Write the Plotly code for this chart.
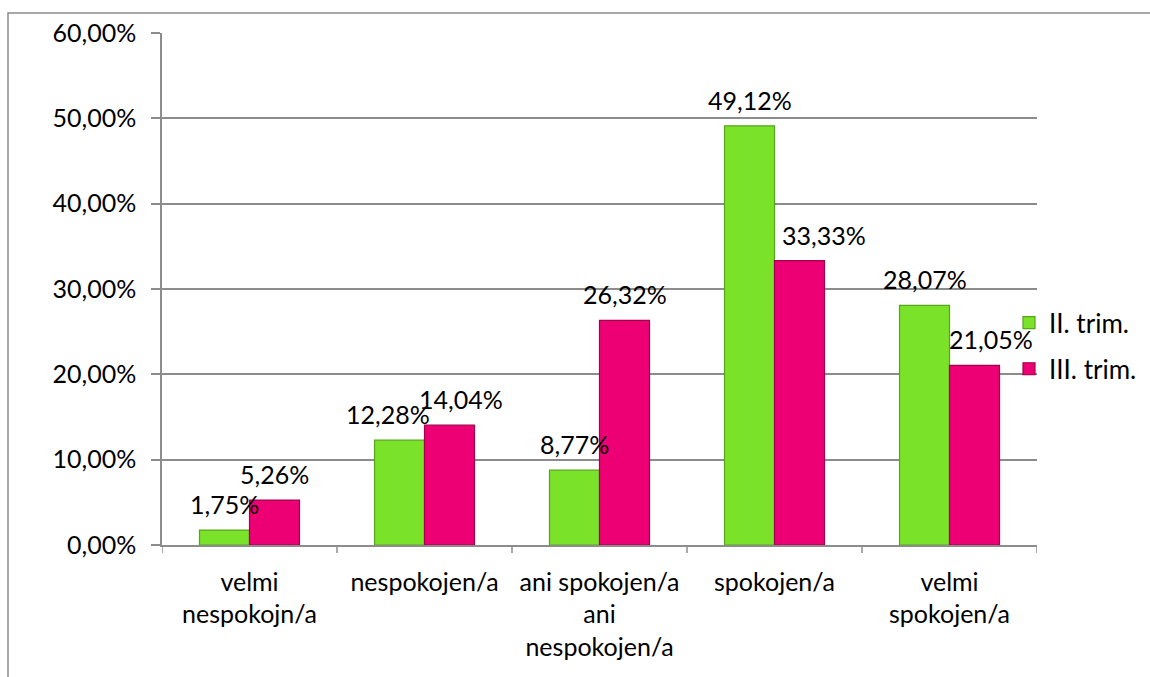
import plotly.graph_objects as go

# Satisfaction survey: share of answers per category, two quarters
categories = [
    "velmi<br>nespokojn/a",
    "nespokojen/a",
    "ani spokojen/a<br>ani<br>nespokojen/a",
    "spokojen/a",
    "velmi<br>spokojen/a",
]
series_names = ["II. trim.", "III. trim."]
q2_values = [1.75, 12.28, 8.77, 49.12, 28.07]
q3_values = [5.26, 14.04, 26.32, 33.33, 21.05]
y_ticks = [0, 10, 20, 30, 40, 50, 60]

# label nudges (px) where neighbouring labels would collide
q2_label_dx = [0, -12, 0, 0, 0]
q3_label_dx = [0, 11, 0, 24, 16]

FONT = "Lato"
FS = 25
GREEN, GREEN_EDGE = "#7ae228", "#58a41a"
PINK, PINK_EDGE = "#ec0073", "#a2004c"
GRID = "#8c8c8c"

BARGAP = 0.4286
bar_w = (1 - BARGAP) / 2


def fmt(v):
    return f"{v:.2f}%".replace(".", ",")


fig = go.Figure()
fig.add_trace(go.Bar(
    x=list(range(len(categories))), y=q2_values, name=series_names[0],
    marker=dict(color=GREEN, line=dict(color=GREEN_EDGE, width=1.2)),
    legend="legend", showlegend=True,
))
fig.add_trace(go.Bar(
    x=list(range(len(categories))), y=q3_values, name=series_names[1],
    marker=dict(color=PINK, line=dict(color=PINK_EDGE, width=1.2)),
    legend="legend2", showlegend=True,
))

annotations = []
for i in range(len(categories)):
    for vals, dxs, side in ((q2_values, q2_label_dx, -1), (q3_values, q3_label_dx, 1)):
        annotations.append(dict(
            x=i + side * bar_w / 2, y=vals[i], xref="x", yref="y",
            text=fmt(vals[i]), showarrow=False,
            xanchor="center", yanchor="middle",
            xshift=dxs[i], yshift=26,
            font=dict(family=FONT, size=FS, color="#000000"),
        ))

legend_common = dict(
    xanchor="left", yanchor="middle", bgcolor="rgba(0,0,0,0)",
    font=dict(family=FONT, size=FS + 1, color="#000000"), itemwidth=30,
)

fig.update_layout(
    width=1150, height=677,
    margin=dict(l=162, r=113, t=33, b=132, autoexpand=False),
    paper_bgcolor="white", plot_bgcolor="white",
    barmode="group", bargap=BARGAP, bargroupgap=0,
    font=dict(family=FONT, size=FS, color="#000000"),
    annotations=annotations,
    showlegend=True,
    legend=dict(x=0.968, y=0.434, **legend_common),
    legend2=dict(x=0.968, y=0.344, **legend_common),
    xaxis=dict(
        tickmode="array", tickvals=list(range(len(categories))), ticktext=categories,
        range=[-0.5, len(categories) - 0.5],
        showline=True, linecolor=GRID, linewidth=1.5,
        ticks="", showgrid=False, zeroline=False,
        tickfont=dict(family=FONT, size=FS), ticklabelstandoff=14,
    ),
    yaxis=dict(
        range=[0, 60], tickmode="array", tickvals=y_ticks,
        ticktext=[fmt(t) for t in y_ticks],
        showline=True, linecolor=GRID, linewidth=1.5,
        ticks="outside", ticklen=9, tickcolor=GRID, tickwidth=1.5,
        showgrid=True, gridcolor=GRID, gridwidth=1.5, zeroline=False,
        tickfont=dict(family=FONT, size=FS), ticklabelstandoff=10,
    ),
    shapes=[
        # chart frame (only its top and left edges fall inside the page)
        dict(type="rect", xref="paper", yref="paper",
             x0=-0.176, x1=1.3, y0=-0.5, y1=1.039,
             line=dict(color=GRID, width=1.5), layer="below"),
        # category separators below the axis
        *[dict(type="line", xref="x", yref="paper", x0=k - 0.5, x1=k - 0.5,
               y0=0, y1=-8 / 512, line=dict(color=GRID, width=1.5))
          for k in range(len(categories) + 1)],
    ],
)

fig.write_html("out.html")
